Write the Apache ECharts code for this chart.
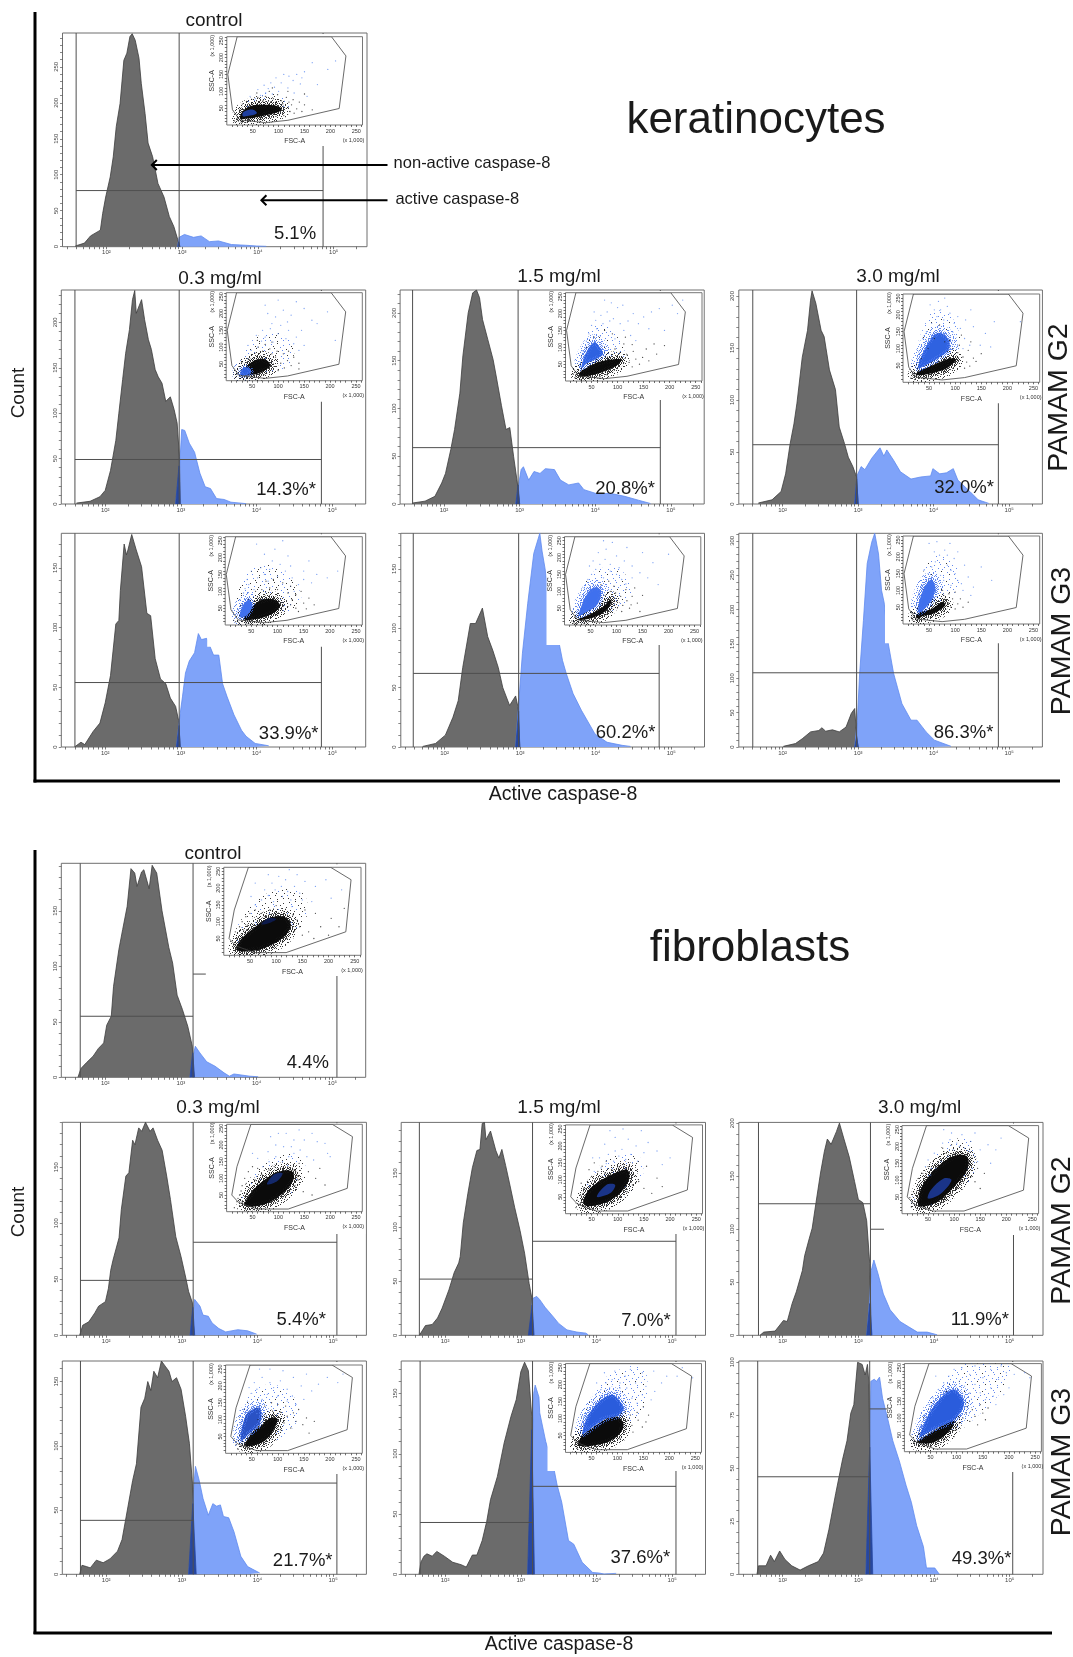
<!DOCTYPE html>
<html><head><meta charset="utf-8">
<style>html,body{margin:0;padding:0;background:#fff}#c{width:1073px;height:1657px;filter:blur(0.45px)}</style>
<script src="https://cdn.jsdelivr.net/npm/echarts@6/dist/echarts.min.js"></script>
</head><body><div id="c"></div>
<script>
// ---------- histogram readings: [log10(intensity), count] ----------
const kC_dark=[[1.59,1],[1.71,5],[1.79,15],[1.92,23],[1.95,46],[1.99,69],[2.05,97],[2.09,125],[2.13,167],[2.18,199],[2.23,259],[2.27,269],[2.31,292],[2.34,296],[2.38,287],[2.43,262],[2.46,227],[2.51,185],[2.55,144],[2.61,125],[2.68,88],[2.76,69],[2.83,42],[2.89,28],[2.95,7],[2.97,0]];
const kC_blue=[[2.94,0],[2.96,13],[3.03,17],[3.15,13],[3.25,15],[3.36,7],[3.48,8],[3.65,3],[3.84,2],[3.98,1],[4.11,0.5]];
const kC_over=[[2.94,0],[2.955,7],[2.97,0]];
const k1_dark=[[1.62,1],[1.8,3],[1.93,8],[2,15],[2.07,37],[2.14,70],[2.18,100],[2.23,137],[2.27,166],[2.32,192],[2.36,225],[2.39,235],[2.41,210],[2.43,212],[2.48,225],[2.52,203],[2.57,181],[2.61,170],[2.66,148],[2.7,140],[2.75,133],[2.8,113],[2.86,118],[2.91,104],[2.95,89],[2.98,52],[2.99,0]];
const k1_blue=[[2.93,0],[2.98,37],[3.01,82],[3.05,81],[3.11,67],[3.18,57],[3.25,34],[3.32,19],[3.39,17],[3.47,6],[3.57,5],[3.66,2],[3.86,0.4]];
const k1_over=[[2.93,0],[2.975,42],[2.99,0]];
const k2_dark=[[1.585,1],[1.75,3],[1.88,8],[1.97,22],[2.02,32],[2.09,57],[2.14,78],[2.21,116],[2.25,155],[2.32,200],[2.38,221],[2.43,224],[2.47,216],[2.51,193],[2.58,172],[2.65,151],[2.69,134],[2.76,103],[2.82,78],[2.87,80],[2.92,50],[2.97,22],[3,0]];
const k2_blue=[[2.95,0],[2.99,22],[3.02,36],[3.05,39],[3.12,25],[3.19,34],[3.27,32],[3.34,37],[3.46,36],[3.54,25],[3.65,20],[3.78,22],[3.85,15],[4.01,11],[4.21,11],[4.39,8],[4.57,4],[4.73,0.5]];
const k2_over=[[2.95,0],[2.98,20],[3,0]];
const k3_dark=[[1.68,1],[1.86,4],[1.98,12],[2.04,29],[2.1,58],[2.15,77],[2.19,97],[2.26,141],[2.33,167],[2.37,196],[2.39,205],[2.44,193],[2.51,167],[2.55,161],[2.62,129],[2.7,110],[2.75,74],[2.82,58],[2.87,45],[2.93,36],[2.98,26],[3,0]];
const k3_blue=[[2.955,0],[2.99,28],[3.04,36],[3.09,33],[3.18,44],[3.29,54],[3.34,46],[3.38,52],[3.47,42],[3.56,31],[3.7,24],[3.83,26],[3.96,27],[3.99,34],[4.08,29],[4.17,30],[4.26,34],[4.32,23],[4.48,12],[4.59,4],[4.73,0.6]];
const k3_over=[[2.955,0],[2.98,24],[3,0]];
const k4_dark=[[1.6,0.3],[1.68,4],[1.73,2],[1.84,13],[1.93,20],[2,37],[2.07,60],[2.14,103],[2.18,106],[2.2,131],[2.25,170],[2.28,161],[2.3,165],[2.35,178],[2.41,165],[2.48,151],[2.55,112],[2.6,110],[2.66,74],[2.73,57],[2.8,53],[2.86,41],[2.93,34],[2.97,22],[2.99,0]];
const k4_blue=[[2.94,0],[2.99,28],[3.02,42],[3.06,62],[3.11,72],[3.18,79],[3.23,95],[3.27,90],[3.34,91],[3.43,77],[3.5,77],[3.55,53],[3.61,42],[3.7,27],[3.8,14],[3.86,9],[3.98,3],[4.16,1]];
const k4_over=[[2.94,0],[2.975,18],[2.99,0]];
const k5_dark=[[1.71,0.5],[1.88,3],[2.01,10],[2.11,25],[2.18,39],[2.24,67],[2.34,104],[2.41,104],[2.5,117],[2.57,93],[2.64,81],[2.71,67],[2.77,50],[2.86,35],[2.94,43],[2.97,34],[2.995,0]];
const k5_blue=[[2.94,0],[2.98,36],[3.03,79],[3.1,121],[3.18,163],[3.26,180],[3.29,165],[3.33,150],[3.36,135],[3.42,110],[3.48,95],[3.52,86],[3.56,73],[3.61,62],[3.7,45],[3.81,31],[3.99,11],[4.15,4],[4.35,1.4],[4.46,0.5]];
const k5_over=[[2.94,0],[2.98,30],[2.995,0]];
const k6_dark=[[2.01,1],[2.17,5],[2.26,12],[2.37,22],[2.48,24],[2.52,28],[2.57,23],[2.66,25],[2.75,22],[2.84,29],[2.91,49],[2.955,56],[2.98,15],[3,0]];
const k6_blue=[[2.955,0],[2.99,39],[3.02,107],[3.07,184],[3.12,267],[3.18,298],[3.22,311],[3.27,281],[3.31,228],[3.345,210],[3.4,150],[3.47,107],[3.52,87],[3.58,63],[3.7,39],[3.78,39],[3.9,22],[4.01,10],[4.23,1]];
const k6_over=[[2.955,0],[2.98,15],[3,0]];
const fC_dark=[[1.64,0],[1.68,8],[1.75,13],[1.84,19],[1.91,26],[1.98,31],[2.02,47],[2.08,55],[2.11,82],[2.18,115],[2.23,133],[2.29,154],[2.34,188],[2.39,184],[2.42,172],[2.48,185],[2.51,187],[2.58,170],[2.62,191],[2.68,184],[2.75,150],[2.84,117],[2.89,103],[2.95,74],[3.02,61],[3.09,46],[3.15,28],[3.17,0]];
const fC_blue=[[3.12,0],[3.16,19],[3.19,28],[3.25,22],[3.34,14],[3.45,10],[3.57,4],[3.64,1],[3.7,3],[3.91,1],[4.02,0.5]];
const fC_over=[[3.12,0],[3.155,22],[3.18,0]];
const f1_dark=[[1.65,0],[1.69,9],[1.77,12],[1.85,20],[1.9,26],[1.99,30],[2.03,42],[2.06,58],[2.09,67],[2.17,87],[2.2,112],[2.26,142],[2.3,145],[2.35,174],[2.38,170],[2.43,185],[2.47,182],[2.52,190],[2.58,182],[2.62,185],[2.68,174],[2.74,165],[2.8,142],[2.85,121],[2.92,88],[2.99,70],[3.05,52],[3.09,39],[3.14,29],[3.16,0]];
const f1_blue=[[3.11,0],[3.15,20],[3.17,32],[3.24,26],[3.28,18],[3.35,17],[3.4,11],[3.49,6],[3.58,3],[3.74,5],[3.87,4],[3.99,1]];
const f1_over=[[3.11,0],[3.145,25],[3.17,0]];
const f2_dark=[[1.66,0],[1.74,9],[1.83,10],[1.9,16],[1.96,25],[2.05,42],[2.12,58],[2.18,67],[2.2,73],[2.24,104],[2.3,131],[2.36,155],[2.42,171],[2.46,172],[2.49,196],[2.52,197],[2.54,181],[2.6,189],[2.67,171],[2.71,164],[2.75,172],[2.8,157],[2.85,141],[2.92,118],[2.99,97],[3.05,76],[3.11,48],[3.15,33],[3.16,0]];
const f2_blue=[[3.12,0],[3.155,34],[3.21,36],[3.25,33],[3.32,26],[3.43,17],[3.5,11],[3.61,5],[3.74,3],[3.86,2],[3.89,0.4]];
const f2_over=[[3.1,0],[3.15,28],[3.175,0]];
const f3_dark=[[1.7,0],[1.75,3],[1.9,4],[2.01,14],[2.06,13],[2.125,30],[2.18,41],[2.26,61],[2.29,75],[2.35,91],[2.39,101],[2.44,125],[2.5,153],[2.55,173],[2.59,185],[2.64,180],[2.71,192],[2.75,200],[2.81,185],[2.88,168],[2.95,145],[3,128],[3.06,125],[3.11,108],[3.15,68],[3.17,0]];
const f3_blue=[[3.11,0],[3.15,34],[3.17,61],[3.205,71],[3.26,58],[3.33,39],[3.42,24],[3.55,13],[3.665,8],[3.78,3],[3.91,3],[4.04,0.5]];
const f3_over=[[3.11,0],[3.15,30],[3.18,0]];
const f4_dark=[[1.65,0],[1.68,7],[1.74,6],[1.79,5],[1.87,11],[1.96,9],[2.05,12],[2.15,18],[2.21,27],[2.28,50],[2.35,73],[2.4,86],[2.46,130],[2.51,137],[2.55,150],[2.59,143],[2.63,158],[2.68,153],[2.73,166],[2.78,162],[2.83,158],[2.87,150],[2.93,153],[2.99,144],[3.05,123],[3.1,102],[3.14,71],[3.155,0]];
const f4_blue=[[3.09,0],[3.13,27],[3.155,66],[3.18,84],[3.23,73],[3.28,59],[3.35,46],[3.41,55],[3.46,53],[3.51,54],[3.55,45],[3.62,44],[3.69,33],[3.78,14],[3.87,6],[4.03,1]];
const f4_over=[[3.09,0],[3.145,55],[3.19,0]];
const f5_dark=[[1.655,0],[1.68,10],[1.72,15],[1.76,17],[1.83,15],[1.89,19],[1.99,15],[2.1,10],[2.21,8],[2.28,6],[2.36,16],[2.42,16],[2.49,28],[2.55,44],[2.6,62],[2.69,81],[2.78,109],[2.87,131],[2.94,145],[3,168],[3.05,176],[3.1,169],[3.145,131],[3.165,0]];
const f5_blue=[[3.09,0],[3.13,48],[3.17,150],[3.19,157],[3.24,147],[3.25,134],[3.33,110],[3.43,90],[3.48,74],[3.54,60],[3.63,28],[3.7,25],[3.81,10],[3.95,1.5],[4.04,1],[4.1,0.2],[4.26,0.8]];
const f5_over=[[3.09,0],[3.145,120],[3.18,0]];
const f6_dark=[[1.66,0],[1.68,4],[1.78,4],[1.84,9],[1.89,6],[1.96,11],[2.03,7],[2.12,4],[2.23,2],[2.34,4],[2.47,6],[2.54,10],[2.61,21],[2.7,38],[2.79,54],[2.85,63],[2.9,76],[2.94,80],[2.99,100],[3.05,99],[3.09,94],[3.12,99],[3.14,90],[3.165,0]];
const f6_blue=[[3.1,0],[3.14,31],[3.165,91],[3.21,92],[3.24,91],[3.28,93],[3.32,83],[3.39,73],[3.455,63],[3.545,53],[3.63,42],[3.7,34],[3.77,23],[3.86,13],[3.9,3],[4.01,3],[4.07,0]];
const f6_over=[[3.1,0],[3.15,60],[3.19,0]];

// ---------- gate outlines on the FSC-A / SSC-A insets ----------
const gateKerat=[[20,262],[2,150],[11,45],[25,15],[75,7],[118,14],[217,49],[230,205],[202,262]];
const gateFibro=[[47,262],[20,135],[10,50],[23,28],[59,8],[119,8],[233,70],[243,225],[204,262]];

// ---------- scatter readings: [FSC-A, SSC-A] (x 1,000) ----------
const kC_hal=[[28,30],[45,80],[75,95],[110,80],[125,50],[70,20]];
const kC_bk=[[26,19],[40,19],[70,27],[95,36],[106,45],[101,54],[85,59],[55,59],[39,51],[28,35]];
const kC_bl=[[31,26],[45,28],[58,35],[51,45],[38,43],[31,36]];
const kC_dk=[[118,52],[122,40],[110,28],[125,60],[130,35],[105,72],[90,78],[75,85],[60,82],[48,76],[38,70],[30,62],[135,48],[140,68],[98,90],[82,100],[115,82],[128,75],[150,60],[165,45],[28,10],[35,8],[42,12],[20,18],[15,12],[58,95],[70,72],[95,68],[108,63],[120,68],[145,40],[118,100],[25,45],[88,110],[150,92],[30,8]];
const kC_bd=[[60,105],[72,118],[85,125],[95,140],[110,150],[128,132],[142,122],[118,110],[100,100],[88,92],[75,95],[65,88],[55,78],[150,158],[165,185],[210,190],[175,120],[155,85],[130,95],[105,125],[92,112],[80,108],[45,85],[135,150],[145,140],[195,165],[120,145]];
const k1_hal=[[24,35],[50,120],[95,145],[130,100],[120,45],[70,25]];
const k1_bk=[[30,16],[50,17],[70,27],[84,42],[82,56],[70,65],[54,60],[42,46],[31,28]];
const k1_bl=[[28,17],[42,18],[48,27],[43,38],[34,40],[28,28]];
const k1_dk=[[95,70],[105,52],[112,38],[100,30],[88,80],[70,88],[55,82],[42,66],[30,55],[118,60],[125,45],[110,80],[130,70],[84,95],[98,88],[62,100],[75,108],[140,52],[120,88],[20,20],[18,10],[140,35],[60,120],[88,115]];
const k1_bd=[[60,100],[75,130],[90,115],[100,140],[115,125],[130,110],[85,155],[70,150],[58,135],[105,165],[120,150],[140,90],[135,130],[150,105],[95,190],[110,210],[80,200],[75,225],[125,195],[165,180],[175,170],[195,205],[210,120],[150,215],[135,235],[100,240],[145,150],[118,175],[88,170],[68,118],[48,90],[42,105]];
const k2_hal=[[26,33],[49,162],[81,162],[107,112],[114,62],[68,33]];
const k2_bk=[[27,13],[55,19],[80,32],[101,49],[107,63],[91,64],[65,57],[44,42],[28,27]];
const k2_bl=[[31,38],[41,52],[62,68],[72,80],[64,104],[54,114],[40,85],[33,58]];
const k2_dk=[[118,78],[122,55],[128,42],[105,85],[95,95],[135,65],[148,70],[142,50],[130,88],[160,60],[155,95],[175,80],[112,110],[18,10],[15,20],[30,5],[45,8],[62,8],[80,18],[55,130],[75,150],[90,140],[128,108],[115,130],[170,110],[190,105]];
const k2_bd=[[45,140],[50,165],[58,180],[68,195],[80,205],[92,185],[105,170],[112,150],[125,135],[135,120],[95,125],[85,178],[60,155],[72,170],[40,118],[120,178],[140,170],[150,190],[165,205],[180,215],[205,225],[225,240],[215,200],[160,155],[190,150],[75,240],[100,218],[130,200],[110,225],[32,90],[55,205],[88,232]];
const k3_hal=[[27,56],[53,205],[86,205],[109,136],[99,66]];
const k3_bk=[[25,21],[53,26],[82,40],[101,65],[97,72],[73,62],[50,46],[29,32]];
const k3_bl=[[29,42],[43,102],[66,146],[86,130],[88,98],[66,70],[42,50]];
const k3_dk=[[115,75],[122,60],[105,88],[95,100],[128,48],[118,42],[135,72],[108,110],[125,95],[80,120],[60,130],[15,12],[22,8],[40,10],[18,25],[140,62],[150,85],[130,120],[112,140],[70,170],[35,70],[48,100]];
const k3_bd=[[30,90],[38,130],[45,150],[55,175],[65,195],[72,215],[85,225],[98,175],[110,160],[118,130],[128,110],[52,230],[68,240],[90,205],[105,195],[120,185],[135,165],[148,110],[168,105],[130,215],[158,145],[175,180],[225,180],[80,250],[95,150],[60,215],[42,110],[115,100],[78,185]];
const k4_hal=[[26,60],[40,150],[80,180],[130,130],[145,75],[115,35]];
const k4_bk=[[36,18],[60,18],[88,32],[105,55],[100,70],[85,78],[65,72],[50,50]];
const k4_bl=[[28,25],[33,56],[45,74],[52,60],[45,34],[35,23]];
const k4_dk=[[125,60],[135,50],[128,75],[140,40],[120,95],[100,105],[85,110],[70,105],[150,65],[155,48],[135,90],[110,125],[92,135],[20,10],[26,8],[16,14],[40,6],[75,14],[160,80],[145,100],[170,60],[125,115],[78,130],[58,100]];
const k4_bd=[[35,95],[45,120],[55,105],[62,140],[75,150],[85,165],[100,145],[115,160],[128,140],[140,120],[150,135],[42,135],[68,170],[90,190],[105,180],[125,175],[150,160],[165,125],[175,150],[195,140],[160,190],[120,205],[75,210],[50,160],[95,225],[215,160],[60,240],[110,250],[28,75],[38,108],[82,130],[132,100]];
const k5_hal=[[25,40],[50,150],[100,170],[130,110],[110,50],[60,30]];
const k5_bk=[[24,16],[45,29],[70,50],[90,76],[86,54],[70,32],[40,16]];
const k5_bl=[[27,27],[38,76],[54,110],[70,103],[63,60],[38,35]];
const k5_dk=[[100,70],[108,85],[98,95],[112,58],[120,72],[88,100],[78,88],[125,50],[130,85],[118,105],[95,115],[70,120],[140,65],[145,40],[150,88],[135,110],[18,6],[24,4],[30,8],[14,12],[110,40],[128,60],[85,130]];
const k5_bd=[[38,110],[45,135],[52,150],[60,165],[68,180],[78,195],[88,160],[100,150],[110,135],[118,122],[130,140],[75,140],[88,180],[55,190],[65,215],[80,225],[100,205],[115,190],[130,175],[145,155],[160,140],[170,185],[200,210],[75,250],[92,245],[120,230],[150,215],[180,120],[30,90],[48,175],[105,170]];
const k6_hal=[[28,60],[50,190],[85,200],[110,130],[85,70],[50,40]];
const k6_bk=[[25,22],[30,16],[38,24],[60,32],[81,55],[76,66],[55,45],[32,35]];
const k6_bl=[[29,36],[37,96],[53,132],[62,111],[56,75],[39,41]];
const k6_dk=[[88,62],[92,50],[95,75],[78,85],[68,60],[100,45],[105,60],[88,90],[70,25],[55,20],[42,14],[18,12],[16,20],[22,8],[110,75],[100,95],[115,50],[125,65],[75,100]];
const k6_bd=[[30,85],[38,115],[48,150],[55,170],[62,185],[70,205],[80,220],[85,175],[92,160],[100,150],[105,130],[112,120],[72,145],[78,130],[60,215],[50,240],[90,240],[105,215],[118,175],[125,140],[135,110],[150,170],[130,85],[40,160],[65,245],[98,195],[115,100],[92,115],[85,205],[170,130]];
const fC_hal=[[20,36],[46,135],[99,195],[151,185],[158,115],[118,46]];
const fC_bk=[[25,16],[50,12],[82,24],[115,55],[128,90],[115,115],[85,110],[50,72],[30,42]];
const fC_bl=[[72,92],[90,98],[100,108],[85,110]];
const fC_dk=[[25,50],[22,70],[30,85],[35,100],[42,115],[50,125],[60,135],[72,125],[88,135],[100,148],[115,130],[132,120],[140,105],[145,85],[135,72],[150,60],[120,50],[162,70],[172,50],[185,85],[200,60],[205,110],[220,85],[175,125],[38,75],[32,40],[20,32],[28,20],[45,90],[230,140],[155,135],[65,110]];
const fC_bd=[[60,150],[72,165],[85,178],[98,195],[110,205],[122,190],[135,205],[145,185],[128,165],[150,165],[78,195],[92,215],[105,235],[118,225],[140,240],[155,220],[175,205],[195,225],[205,170],[225,195],[168,160],[52,175],[60,215],[85,240],[125,255],[95,160],[112,175],[130,145]];
const f1_hal=[[25,30],[50,110],[100,170],[145,160],[150,90],[90,30]];
const f1_bk=[[36,18],[74,22],[114,62],[130,100],[125,122],[100,120],[67,88],[44,50]];
const f1_bl=[[78,82],[98,92],[108,115],[92,112]];
const f1_dk=[[25,50],[22,40],[20,30],[28,62],[30,78],[38,85],[45,70],[55,95],[68,112],[82,125],[92,135],[108,130],[128,125],[138,95],[132,78],[118,60],[100,45],[148,60],[165,50],[172,100],[140,145],[158,120],[35,100],[42,120],[50,135],[25,18],[15,12],[30,28],[190,80],[180,130],[60,130]];
const f1_bd=[[70,135],[82,150],[95,165],[108,150],[120,165],[130,175],[142,185],[125,195],[110,195],[95,200],[80,180],[60,160],[50,175],[150,215],[165,235],[140,245],[115,235],[175,210],[190,205],[195,175],[200,165],[85,225],[100,235],[155,165],[168,155],[130,215]];
const f2_hal=[[28,40],[50,110],[90,170],[140,170],[145,100],[85,30]];
const f2_bk=[[37,24],[75,32],[107,65],[122,105],[118,130],[92,118],[59,90],[40,60]];
const f2_bl=[[60,50],[85,60],[95,85],[78,85]];
const f2_dk=[[26,28],[22,40],[28,55],[35,75],[30,90],[42,95],[50,110],[62,125],[75,120],[88,130],[100,138],[112,145],[125,130],[132,110],[128,85],[118,65],[105,50],[140,95],[150,75],[165,60],[175,105],[155,140],[45,130],[55,150],[78,155],[20,18],[30,15],[185,80],[70,140]];
const f2_bd=[[55,125],[68,135],[78,148],[92,155],[102,170],[115,160],[125,175],[108,190],[95,185],[82,175],[65,165],[52,165],[138,155],[150,180],[135,200],[120,220],[95,225],[75,205],[158,210],[175,185],[200,165],[185,145],[145,245],[110,250],[85,245]];
const f3_hal=[[20,30],[40,110],[85,210],[130,220],[140,130],[90,40]];
const f3_bk=[[33,22],[68,35],[100,80],[125,130],[125,170],[100,172],[65,135],[40,85],[32,50]];
const f3_bl=[[50,45],[75,60],[95,100],[80,105],[55,70]];
const f3_dk=[[28,25],[20,35],[15,48],[22,65],[30,85],[32,105],[40,120],[50,140],[60,155],[72,170],[85,180],[100,178],[112,185],[125,175],[128,150],[125,120],[118,95],[105,75],[92,55],[80,42],[55,30],[132,110],[140,95],[150,75],[145,135],[135,165],[78,195],[95,205],[65,130],[18,20],[158,120]];
const f3_bd=[[55,115],[65,135],[75,155],[88,170],[98,190],[110,200],[120,195],[105,210],[92,220],[78,210],[62,180],[50,160],[130,185],[140,170],[145,155],[150,190],[132,215],[115,235],[95,240],[80,250],[165,205],[180,190],[190,225],[140,240],[170,150],[45,140]];
const f4_hal=[[26,45],[42,165],[85,205],[130,170],[135,90],[85,30]];
const f4_bk=[[38,22],[76,38],[100,99],[88,106],[70,85],[50,60]];
const f4_bl=[[29,38],[40,115],[65,135],[66,90],[45,58]];
const f4_dk=[[30,20],[24,12],[32,8],[60,30],[85,50],[105,70],[112,90],[118,110],[105,122],[90,125],[75,115],[62,100],[125,75],[135,95],[130,120],[115,140],[148,85],[160,60],[100,145],[88,150],[155,105],[170,95],[20,25],[75,140],[140,130]];
const f4_bd=[[30,90],[35,130],[42,155],[50,178],[60,190],[70,160],[80,175],[92,195],[105,215],[118,190],[128,170],[135,145],[150,160],[118,155],[100,170],[85,210],[70,225],[55,210],[45,195],[130,225],[145,200],[165,185],[178,205],[155,235],[110,245],[85,250],[65,250],[195,225],[215,210],[225,235],[60,118]];
const f5_hal=[[26,45],[45,150],[85,230],[150,250],[150,130],[100,60]];
const f5_bk=[[25,20],[60,22],[95,42],[112,80],[100,105],[75,95],[50,70],[30,45]];
const f5_bl=[[33,55],[47,118],[88,170],[112,130],[100,108],[75,98],[50,72]];
const f5_dk=[[120,95],[128,80],[110,70],[125,110],[130,60],[115,120],[140,95],[148,75],[105,40],[85,30],[60,18],[30,15],[22,12],[18,22],[138,118],[155,90],[160,110],[150,135]];
const f5_bd=[[35,105],[42,130],[50,150],[58,170],[68,185],[78,205],[90,215],[105,205],[118,190],[128,160],[138,145],[148,170],[115,225],[135,205],[155,195],[165,155],[172,180],[185,205],[95,240],[75,235],[60,205],[125,245],[148,235],[195,225],[245,220],[215,225],[225,250],[170,240],[85,190],[105,190]];
const f6_hal=[[25,40],[45,130],[80,220],[120,262],[200,262],[185,180],[135,100],[95,55]];
const f6_bk=[[24,28],[57,28],[90,68],[94,92],[64,70],[36,42]];
const f6_bl=[[28,42],[52,125],[92,185],[114,146],[97,97],[64,72],[36,48]];
const f6_dk=[[100,65],[105,85],[112,100],[118,115],[95,45],[72,40],[45,22],[28,18],[18,28],[125,90],[130,125],[135,105],[140,80],[150,115],[155,95],[120,135],[145,140],[160,130]];
const f6_bd=[[30,80],[38,110],[45,140],[55,160],[65,185],[75,205],[85,225],[95,245],[110,250],[125,230],[135,200],[125,175],[145,175],[155,155],[165,190],[180,215],[195,235],[170,165],[105,210],[115,195],[150,220],[165,245],[135,255],[185,255],[210,230],[230,235],[240,220],[200,190],[190,170],[85,190],[60,225],[175,140]];

// ---------- axis ticks and labels ----------
const decadeTicks=[2,3,4,5];
const minorFactors=[2,3,4,5,6,7,8,9];
const decadeLabels={2:'10²',3:'10³',4:'10⁴',5:'10⁵'};
const xRange=[1.42,5.44];
const insetTicks=[50,100,150,200,250];
const insetMinor=[10,20,30,40,50,60,70,80,90,100,110,120,130,140,150,160,170,180,190,200,210,220,230,240,250,260];

// ---------- stipple texture for the cloud fringes ----------
const sparseDots=[[1,2],[7,1],[13,3],[4,6],[10,5],[16,7],[2,10],[8,9],[14,11],[5,13],[11,14],[17,13],[0,16],[7,17],[13,16],[3,4],[12,8],[6,11]];
const denseRows=['#.#..#.#.#..','.#.#...#..#.','#...#.#..#.#','..#.#..#.#..','#.#...#.#..#','.#..#.#...#.','#..#...#.#.#','.#.#.#..#...','#...#..#.#.#','..#..#.#..#.','#.#.#...#.#.','.#...#.#.#.#'];
const midRows=['#....#....#.','..#.....#...','.....#.#....','.#.........#','....#...#...','..#....#....','#.....#....#','...#.......','.....#...#..','.#.......#..','....#.#.....','........#..#'];

// ---------- layout of the 14 panels (pixels and gate values) ----------
const panels=[
 {box:[62.5,33,367,246.7],ins:[226.8,36.7,362.5,125],top:146,yMax:297,step:50,left:1.6,mid:2.96,hL:78,hR:78,right:4.86,s:'kC',tone:'mix',poly:gateKerat,pct:'5.1%',pc:[295,234]},
 {box:[61.3,290,365.7,504],ins:[226.2,292.7,362.3,380.7],top:401.7,yMax:235.6,step:50,left:1.6,mid:2.977,hL:49,hR:49,right:4.855,s:'k1',tone:'mix',poly:gateKerat,pct:'14.3%*',pc:[286,490]},
 {box:[400.1,290,704.2,504],ins:[565.5,292.7,702,381],top:400,yMax:224,step:50,left:1.585,mid:2.98,hL:59,hR:59,right:4.86,s:'k2',tone:'blue',poly:gateKerat,pct:'20.8%*',pc:[625,489]},
 {box:[738.8,290,1042.4,504],ins:[903,294,1039.7,382.3],top:403.3,yMax:205.8,step:50,left:1.605,mid:2.98,hL:57,hR:57,right:4.857,s:'k3',tone:'blue',poly:gateKerat,pct:'32.0%*',pc:[964,488]},
 {box:[61.3,533.3,365.7,747],ins:[225.2,536.7,362.3,625],top:646.7,yMax:179,step:50,left:1.6,mid:2.977,hL:54,hR:54,right:4.855,s:'k4',tone:'mix',poly:gateKerat,pct:'33.9%*',pc:[288.7,734]},
 {box:[400.8,533.3,704.5,747],ins:[564.5,536.7,700.8,625],top:645,yMax:180,step:50,left:1.585,mid:2.98,hL:62,hR:62,right:4.84,s:'k5',tone:'blue',poly:gateKerat,pct:'60.2%*',pc:[625.5,732.7]},
 {box:[738.8,533.3,1042.4,747],ins:[903,536,1039.7,624],top:643.3,yMax:311,step:50,left:1.605,mid:2.98,hL:108,hR:108,right:4.857,s:'k6',tone:'blue',poly:gateKerat,pct:'86.3%*',pc:[963.6,732.7]},
 {box:[61.3,863.3,365.7,1077.3],ins:[223.8,867.3,361,955.3],top:976,yMax:192.8,step:50,left:1.67,mid:3.16,hL:55,hR:93,right:5.06,s:'fC',tone:'black',poly:gateFibro,pct:'4.4%',pc:[307.9,1062.7]},
 {box:[62.3,1122.3,366.4,1335.3],ins:[226.6,1124.3,362.3,1211.7],top:1234,yMax:190,step:50,left:1.66,mid:3.15,hL:49,hR:83,right:5.05,s:'f1',tone:'black',poly:gateFibro,pct:'5.4%*',pc:[301.3,1320]},
 {box:[401.2,1122.4,705.5,1335.3],ins:[565.5,1124.9,702.5,1213.7],top:1234,yMax:197,step:50,left:1.66,mid:3.155,hL:52,hR:87,right:5.05,s:'f2',tone:'mix',poly:gateFibro,pct:'7.0%*',pc:[646,1321]},
 {box:[738.8,1122.4,1043,1335.3],ins:[902,1125.6,1038.6,1213.7],top:1235,yMax:200.7,step:50,left:1.68,mid:3.16,hL:124,hR:100,right:5.05,s:'f3',tone:'mix',poly:gateFibro,pct:'11.9%*',pc:[979.8,1320]},
 {box:[62.3,1361,366.4,1574.3],ins:[225.6,1365,362.3,1453.3],top:1474,yMax:166,step:50,left:1.66,mid:3.15,hL:42,hR:71,right:5.05,s:'f4',tone:'blue',poly:gateFibro,pct:'21.7%*',pc:[302.7,1561]},
 {box:[401.2,1361,705.5,1574.3],ins:[565.5,1363.6,701.5,1452.4],top:1471,yMax:177,step:50,left:1.67,mid:3.155,hL:43,hR:73,right:5.05,s:'f5',tone:'blue',poly:gateFibro,pct:'37.6%*',pc:[640.4,1558]},
 {box:[738.8,1361,1043,1574.3],ins:[904.4,1363.6,1041.4,1451.7],top:1472,yMax:100.6,step:25,left:1.67,mid:3.15,hL:46,hR:78,hRStop:3.39,rectL:910,right:5.04,s:'f6',tone:'blue',poly:gateFibro,pct:'49.3%*',pc:[981.5,1559]}
];
const sets={
 kC:{dark:kC_dark,blue:kC_blue,over:kC_over,hal:kC_hal,bk:kC_bk,bl:kC_bl,dk:kC_dk,bd:kC_bd,blCol:'#1f3f9f',blFringe:0},
 k1:{dark:k1_dark,blue:k1_blue,over:k1_over,hal:k1_hal,bk:k1_bk,bl:k1_bl,dk:k1_dk,bd:k1_bd,blCol:'#2f62e0',blFringe:5},
 k2:{dark:k2_dark,blue:k2_blue,over:k2_over,hal:k2_hal,bk:k2_bk,bl:k2_bl,dk:k2_dk,bd:k2_bd,blCol:'#2f62e0',blFringe:6},
 k3:{dark:k3_dark,blue:k3_blue,over:k3_over,hal:k3_hal,bk:k3_bk,bl:k3_bl,dk:k3_dk,bd:k3_bd,blCol:'#2f62e0',blFringe:6},
 k4:{dark:k4_dark,blue:k4_blue,over:k4_over,hal:k4_hal,bk:k4_bk,bl:k4_bl,dk:k4_dk,bd:k4_bd,blCol:'#3f70ee',blFringe:5},
 k5:{dark:k5_dark,blue:k5_blue,over:k5_over,hal:k5_hal,bk:k5_bk,bl:k5_bl,dk:k5_dk,bd:k5_bd,blCol:'#3f70ee',blFringe:6},
 k6:{dark:k6_dark,blue:k6_blue,over:k6_over,hal:k6_hal,bk:k6_bk,bl:k6_bl,dk:k6_dk,bd:k6_bd,blCol:'#3f70ee',blFringe:6},
 fC:{dark:fC_dark,blue:fC_blue,over:fC_over,hal:fC_hal,bk:fC_bk,bl:fC_bl,dk:fC_dk,bd:fC_bd,blCol:'#0d1a4a',blFringe:0},
 f1:{dark:f1_dark,blue:f1_blue,over:f1_over,hal:f1_hal,bk:f1_bk,bl:f1_bl,dk:f1_dk,bd:f1_bd,blCol:'#14296b',blFringe:0},
 f2:{dark:f2_dark,blue:f2_blue,over:f2_over,hal:f2_hal,bk:f2_bk,bl:f2_bl,dk:f2_dk,bd:f2_bd,blCol:'#1a3488',blFringe:0},
 f3:{dark:f3_dark,blue:f3_blue,over:f3_over,hal:f3_hal,bk:f3_bk,bl:f3_bl,dk:f3_dk,bd:f3_bd,blCol:'#1a3488',blFringe:0},
 f4:{dark:f4_dark,blue:f4_blue,over:f4_over,hal:f4_hal,bk:f4_bk,bl:f4_bl,dk:f4_dk,bd:f4_bd,blCol:'#2a52c4',blFringe:6},
 f5:{dark:f5_dark,blue:f5_blue,over:f5_over,hal:f5_hal,bk:f5_bk,bl:f5_bl,dk:f5_dk,bd:f5_bd,blCol:'#2a5cdc',blFringe:6},
 f6:{dark:f6_dark,blue:f6_blue,over:f6_over,hal:f6_hal,bk:f6_bk,bl:f6_bl,dk:f6_dk,bd:f6_bd,blCol:'#2a5cdc',blFringe:6}
};

const FONT='"Liberation Sans",Arial,sans-serif';
const minorLog=[];
for(const d of [1,2,3,4,5])for(const m of [1].concat(minorFactors)){const v=d+Math.log10(m);if(v>xRange[0]&&v<xRange[1])minorLog.push(v);}

function tile(size,dots,colorOf){const c=document.createElement('canvas');c.width=c.height=size;const g=c.getContext('2d');
 dots.forEach((d,i)=>{g.fillStyle=colorOf(i);g.fillRect(d[0],d[1],1,1);});return {type:'pattern',image:c,repeat:'repeat'};}
function rowsToDots(rows){const out=[];rows.forEach((r,y)=>[...r].forEach((ch,x)=>{if(ch==='#')out.push([x,y]);}));return out;}
const denseDots=rowsToDots(denseRows),midDots=rowsToDots(midRows);
const BK='rgba(20,20,20,.85)',BL='rgba(70,115,235,.85)';
const stipple={
 blue:tile(18,sparseDots,i=>i%5===4?BK:BL),
 mix:tile(18,sparseDots,i=>i%2?BK:BL),
 black:tile(18,sparseDots,i=>i%4===3?BL:BK)
};
const denseBlack=tile(12,denseDots,()=>BK);
const midBlack=tile(12,midDots,()=>BK);
const denseBlue=tile(12,denseDots,()=>BL);
const midBlue=tile(12,midDots,()=>BL);

const grid=[],xAxis=[],yAxis=[],series=[],graphic=[];
function txt(t,x,y,size,opt){opt=opt||{};graphic.push({type:'text',x:x,y:y,rotation:opt.rot||0,z:opt.z||20,silent:true,
  style:{text:t,font:size+'px '+FONT,fill:opt.fill||'#1a1a1a',align:opt.align||'center',verticalAlign:'middle'}});}
function poly(xi,pts,style,z,close){series.push({type:'custom',coordinateSystem:'cartesian2d',xAxisIndex:xi,yAxisIndex:xi,z:z,silent:true,clip:true,
  data:[pts[0]],
  renderItem:function(p,api){return {type:close?'polygon':'polyline',shape:{points:pts.map(q=>api.coord(q)),smooth:close?0.35:0},style:style};}});}

panels.forEach(function(P,i){
 const S=sets[P.s],b=P.box,n=P.ins,m=i*2,k=i*2+1;
 // main histogram
 grid.push({show:true,left:b[0],top:b[1],width:b[2]-b[0],height:b[3]-b[1],borderColor:'#6f6f6f',borderWidth:1,backgroundColor:'#fff',containLabel:false,z:0});
 xAxis.push({gridIndex:m,type:'value',min:xRange[0],max:xRange[1],splitLine:{show:false},axisLine:{show:false},
  axisTick:{show:true,customValues:minorLog,length:2.5,lineStyle:{color:'#444',width:.7}},
  axisLabel:{show:true,customValues:decadeTicks,formatter:v=>decadeLabels[v],fontSize:6,margin:3,color:'#444',fontFamily:FONT}});
 const yt=[],ym=[];
 for(let v=0;v<=P.yMax;v+=P.step)yt.push(v);
 for(let v=0;v<=P.yMax;v+=P.step/5)ym.push(v);
 yAxis.push({gridIndex:m,type:'value',min:0,max:P.yMax,splitLine:{show:false},axisLine:{show:false},
  axisTick:{show:true,customValues:ym,length:2.5,lineStyle:{color:'#555',width:.7}},
  axisLabel:{show:true,customValues:yt,rotate:90,fontSize:6,margin:3,color:'#444',fontFamily:FONT}});
 const area=(d,fill,line,z)=>series.push({type:'line',xAxisIndex:m,yAxisIndex:m,data:d,symbol:'none',silent:true,z:z,
   lineStyle:{color:line,width:.8},areaStyle:{color:fill,opacity:1}});
 area(S.dark,'#6b6b6b','#3c3c3c',2);
 area(S.blue,'#7fa3f9','#5f8aef',2);
 area(S.over,'#27479f','#27479f',2.5);
 const segs=[[P.left,0,P.left,P.yMax],[P.mid,0,P.mid,P.yMax],[P.left,P.hL,P.mid,P.hL],[P.mid,P.hR,P.hRStop||P.right,P.hR],[P.right,0,P.right,P.yMax]];
 series.push({type:'custom',coordinateSystem:'cartesian2d',xAxisIndex:m,yAxisIndex:m,z:3,silent:true,data:segs,encode:{x:[0,2],y:[1,3]},
   renderItem:function(p,api){const a=api.coord([api.value(0),api.value(1)]),c=api.coord([api.value(2),api.value(3)]);
     return {type:'line',shape:{x1:a[0],y1:a[1],x2:c[0],y2:c[1]},style:{stroke:'#4f4f4f',lineWidth:1}};}});
 // white backing of the inset picture
 const rl=P.rectL||(n[0]-18);
 graphic.push({type:'rect',z:4,silent:true,shape:{x:rl,y:b[1]+1,width:b[2]-1-rl,height:P.top-b[1]-1},style:{fill:'#fff'}});
 // inset scatter
 grid.push({show:true,left:n[0],top:n[1],width:n[2]-n[0],height:n[3]-n[1],borderColor:'#777',borderWidth:1,backgroundColor:'transparent',z:5});
 xAxis.push({gridIndex:k,type:'value',min:0,max:262,z:6,splitLine:{show:false},axisLine:{show:false},
  name:'FSC-A',nameLocation:'middle',nameGap:13,nameTextStyle:{fontSize:7,color:'#333',fontFamily:FONT},
  axisTick:{show:true,customValues:insetMinor,length:2,lineStyle:{color:'#333',width:.7}},
  axisLabel:{show:true,customValues:insetTicks,fontSize:5.5,margin:3,color:'#333',fontFamily:FONT}});
 yAxis.push({gridIndex:k,type:'value',min:0,max:262,z:6,splitLine:{show:false},axisLine:{show:false},
  name:'SSC-A',nameLocation:'middle',nameGap:11,nameTextStyle:{fontSize:7,color:'#333',fontFamily:FONT},
  axisTick:{show:true,customValues:insetMinor,length:2,lineStyle:{color:'#333',width:.7}},
  axisLabel:{show:true,customValues:insetTicks,rotate:90,fontSize:5.5,margin:2,color:'#333',fontFamily:FONT}});
 poly(k,S.hal,{fill:stipple[P.tone],stroke:null},6,true);
 if(S.blFringe)poly(k,S.bl,{fill:'none',stroke:midBlue,lineWidth:16},6.05,true);
 poly(k,S.bk,{fill:'none',stroke:midBlack,lineWidth:16},6.06,true);
 poly(k,S.bk,{fill:'#0b0b0b',stroke:denseBlack,lineWidth:7},6.1,true);
 poly(k,S.bl,S.blFringe?{fill:S.blCol,stroke:denseBlue,lineWidth:S.blFringe}:{fill:S.blCol,stroke:null},6.2,true);
 poly(k,P.poly.concat([P.poly[0]]),{fill:'none',stroke:'#444',lineWidth:.8},6.3,false);
 series.push({type:'scatter',xAxisIndex:k,yAxisIndex:k,data:S.dk,symbolSize:1.3,itemStyle:{color:'#1c1c1c'},z:6.4,silent:true});
 series.push({type:'scatter',xAxisIndex:k,yAxisIndex:k,data:S.bd,symbolSize:1.3,itemStyle:{color:'#5f8cf0'},z:6.4,silent:true});
 txt('(x 1,000)',n[2]-9,n[3]+15,5.5,{z:7,fill:'#333'});
 txt('(x 1,000)',n[0]-14,n[1]+9,5.5,{z:7,rot:Math.PI/2,fill:'#333'});
 // percentage
 txt(P.pct,P.pc[0],P.pc[1],18.5,{z:20});
});

// frames, titles, annotations
const frame=(x1,y1,x2,y2)=>graphic.push({type:'line',z:19,silent:true,shape:{x1,y1,x2,y2},style:{stroke:'#000',lineWidth:3}});
frame(35,12,35,782.5);frame(33.5,781,1060,781);
frame(35,850,35,1634);frame(33.5,1633,1052,1633);
const titles=[['control',214,21],['0.3 mg/ml',220,279],['1.5 mg/ml',559,277],['3.0 mg/ml',898,277],['control',213,854],['0.3 mg/ml',218,1108],['1.5 mg/ml',559,1108],['3.0 mg/ml',919.6,1108]];
titles.forEach(t=>txt(t[0],t[1],t[2],19));
txt('Active caspase-8',563,795,19.5);txt('Active caspase-8',559,1645,19.5);
txt('Count',19,393,19,{rot:Math.PI/2});txt('Count',19,1212,19,{rot:Math.PI/2});
txt('keratinocytes',756,121,44);txt('fibroblasts',750,949,44);
[['PAMAM G2',1059.5,397.5],['PAMAM G3',1062.5,641],['PAMAM G2',1062.5,1230.5],['PAMAM G3',1062.5,1462]].forEach(t=>txt(t[0],t[1],t[2],28.5,{rot:Math.PI/2}));
txt('non-active caspase-8',393.6,163.5,16.5,{align:'left'});txt('active caspase-8',395.4,199.3,16.5,{align:'left'});
function arrow(x1,x2,y){graphic.push({type:'line',z:19,silent:true,shape:{x1,y1:y,x2,y2:y},style:{stroke:'#000',lineWidth:2}});
 graphic.push({type:'polyline',z:19,silent:true,shape:{points:[[x2+5,y-5],[x2,y],[x2+5,y+5]]},style:{stroke:'#000',lineWidth:2,fill:'none'}});}
arrow(387.5,151.8,165);arrow(387.5,261.4,200.3);

const chart=echarts.init(document.getElementById('c'),null,{renderer:'canvas'});
chart.setOption({animation:false,backgroundColor:'#fff',textStyle:{fontFamily:FONT},grid,xAxis,yAxis,series,graphic:{elements:graphic}});
</script></body></html>
